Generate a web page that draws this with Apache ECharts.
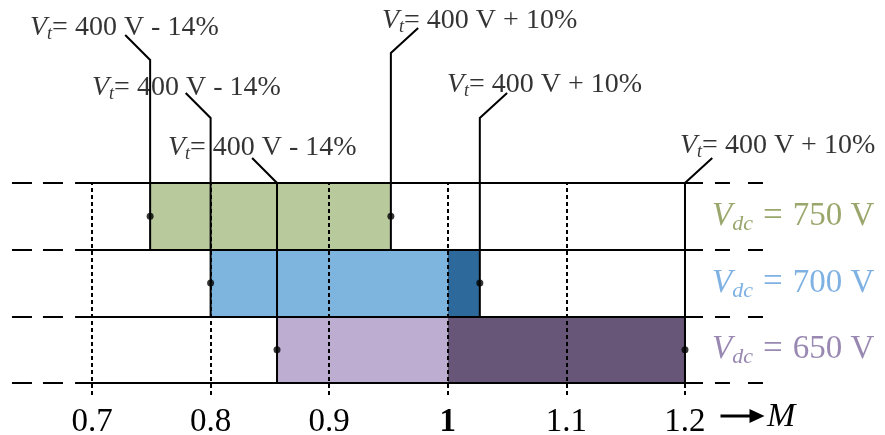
<!DOCTYPE html>
<html>
<head>
<meta charset="utf-8">
<script src="https://cdn.jsdelivr.net/npm/echarts@6/dist/echarts.min.js"></script>
<style>
  html, body { margin: 0; background: #fff; }
  #chart { width: 885px; height: 435px; }
</style>
</head>
<body>
<div id="chart"></div>
<script>
// rows from bottom to top
var rows = ['650 V', '700 V', '750 V'];
var rangeStart = [0.856, 0.8, 0.749];
var rangeEnd = [1.2, 1.027, 0.952];
var ticks = [0.7, 0.8, 0.9, 1, 1.1, 1.2];
var lowText = '400 V - 14%';
var highText = '400 V + 10%';
// where the vertical part of each leader stops
var leaderTopLow = [3.0, 3.975, 4.845];
var leaderTopHigh = [3.0, 3.975, 4.95];
// label anchors [M, y] (left edge, middle)
var labelLow = [[0.764, 3.53], [0.700, 4.43], [0.6477, 5.33]];
var labelHigh = [[1.1958, 3.56], [0.9993, 4.475], [0.9445, 5.44]];

var lightColors = ['#bdadd0', '#7db5de', '#b8c99c'];
var darkColors = ['#675678', '#2d6a9b', '#8a9a66'];
var textColors = ['#7f6a9f', '#5f9edb', '#7f9149'];
var serif = '"Liberation Serif", "DejaVu Serif", serif';

var chart = echarts.init(document.getElementById('chart'));

var barData = rows.map(function (r, i) { return [i, rangeStart[i], rangeEnd[i]]; });

var leaderData = [];
var dotData = [];
var labelData = [];
rows.forEach(function (r, i) {
  leaderData.push({ coords: [[rangeStart[i], i], [rangeStart[i], leaderTopLow[i]], [rangeStart[i] - 0.021, leaderTopLow[i] + 0.375]] });
  leaderData.push({ coords: [[rangeEnd[i], i], [rangeEnd[i], leaderTopHigh[i]], [rangeEnd[i] + 0.023, leaderTopHigh[i] + 0.375]] });
  dotData.push([rangeStart[i], i + 0.5], [rangeEnd[i], i + 0.5]);
  labelData.push({ value: labelLow[i], name: lowText });
  labelData.push({ value: labelHigh[i], name: highText });
});

var vdcData = rows.map(function (r, i) {
  return { value: [1.2228, i + 0.5], name: r, label: { color: textColors[i] } };
});

function dotted(opacity) {
  return {
    silent: true, symbol: 'none', animation: false,
    label: { show: false },
    data: ticks.map(function (t) {
      return [{ coord: [t, -0.18], lineStyle: { color: '#000', width: 2, type: [4, 3], opacity: opacity } }, { coord: [t, 3] }];
    })
  };
}

var rowLevels = [0, 1, 2, 3];

var option = {
  animation: false,
  textStyle: { fontFamily: serif },
  grid: { left: 9, right: 117, top: 3, bottom: 32, outerBoundsMode: 'none', containLabel: false },
  xAxis: {
    type: 'value', min: 0.63, max: 1.27,
    axisLine: { show: false }, axisTick: { show: false }, splitLine: { show: false },
    axisLabel: {
      customValues: ticks,
      margin: 3,
      fontSize: 33, color: '#000', fontFamily: serif,
      formatter: function (v) { return v === 1 ? '{b|1}' : v.toFixed(1); },
      rich: { b: { fontSize: 33, fontWeight: 'bold', color: '#000', fontFamily: serif } }
    },
    name: '{m|M}',
    nameLocation: 'end',
    nameGap: -1,
    nameTextStyle: {
      verticalAlign: 'top', padding: [17, 0, 0, 0],
      rich: { m: { fontSize: 34, fontStyle: 'italic', color: '#000', fontFamily: serif } }
    }
  },
  yAxis: { type: 'value', min: -0.3, max: 5.7, show: false },
  graphic: [{
    type: 'group', left: 718, top: 409, silent: true,
    children: [
      { type: 'line', shape: { x1: 0, y1: 7, x2: 32, y2: 7 }, style: { stroke: '#000', lineWidth: 3 } },
      { type: 'polygon', shape: { points: [[29, 0], [44, 7], [29, 14]] }, style: { fill: '#000' } }
    ]
  }],
  series: [
    {
      type: 'scatter', data: [[0.7, -0.2]], symbolSize: 0, z: 1, silent: true,
      markLine: dotted(1)
    },
    {
      type: 'custom', z: 2, silent: true, data: barData,
      renderItem: function (params, api) {
        var row = api.value(0), start = api.value(1), end = api.value(2);
        var children = [];
        var a = api.coord([start, row + 1]), b = api.coord([Math.min(end, 1), row]);
        children.push({ type: 'rect', shape: { x: a[0], y: a[1], width: b[0] - a[0], height: b[1] - a[1] }, style: { fill: lightColors[row] } });
        if (end > 1) {
          var c = api.coord([1, row + 1]), d = api.coord([end, row]);
          children.push({ type: 'rect', shape: { x: c[0], y: c[1], width: d[0] - c[0], height: d[1] - c[1] }, style: { fill: darkColors[row] } });
        }
        return { type: 'group', children: children };
      }
    },
    {
      type: 'scatter', data: [[0.7, -0.2]], symbolSize: 0, z: 3, silent: true,
      markLine: dotted(0.5)
    },
    {
      // row separators
      type: 'scatter', data: [[0.7, -0.2]], symbolSize: 0, z: 4, silent: true,
      markLine: {
        silent: true, symbol: 'none', animation: false, label: { show: false },
        data: [].concat(
          rowLevels.map(function (y) {
            return [{ coord: [0.6857, y], lineStyle: { type: 'solid', color: '#000', width: 2 } }, { coord: [1.2152, y] }];
          }),
          rowLevels.map(function (y) {
            return [{ coord: [0.6325, y], lineStyle: { type: [20, 11], color: '#000', width: 2 } }, { coord: [0.6764, y] }];
          }),
          rowLevels.map(function (y) {
            return [{ coord: [1.2253, y], lineStyle: { type: [15, 18], color: '#000', width: 2 } }, { coord: [1.2692, y] }];
          })
        )
      }
    },
    {
      type: 'lines', coordinateSystem: 'cartesian2d', polyline: true, z: 5, silent: true,
      lineStyle: { color: '#000', width: 2, opacity: 1 },
      data: leaderData
    },
    {
      type: 'scatter', z: 6, silent: true, symbolSize: 7,
      itemStyle: { color: '#000' },
      data: dotData
    },
    {
      type: 'scatter', z: 7, silent: true, symbolSize: 0,
      data: labelData,
      label: {
        show: true, position: 'right', distance: 0, color: '#000',
        formatter: function (p) { return '{v|V}{s|t}{n|= ' + p.name + '}'; },
        rich: {
          v: { fontSize: 28, fontStyle: 'italic', fontFamily: serif, color: '#000' },
          s: { fontSize: 18, fontStyle: 'italic', fontFamily: serif, color: '#000', padding: [14, 0, 0, 0] },
          n: { fontSize: 28, fontFamily: serif, color: '#000' }
        }
      }
    },
    {
      type: 'scatter', z: 7, silent: true, symbolSize: 0,
      data: vdcData,
      label: {
        show: true, position: 'right', distance: 0,
        formatter: function (p) { return '{v|V}{s|dc}{e|=}{n|' + p.name + '}'; },
        rich: {
          v: { fontSize: 33, fontStyle: 'italic', fontFamily: serif },
          s: { fontSize: 22, fontStyle: 'italic', fontFamily: serif, padding: [16, 0, 0, 0] },
          e: { fontSize: 35, fontFamily: serif, padding: [0, 10, 0, 10] },
          n: { fontSize: 33, fontFamily: serif }
        }
      }
    }
  ]
};

chart.setOption(option);
</script>
</body>
</html>
